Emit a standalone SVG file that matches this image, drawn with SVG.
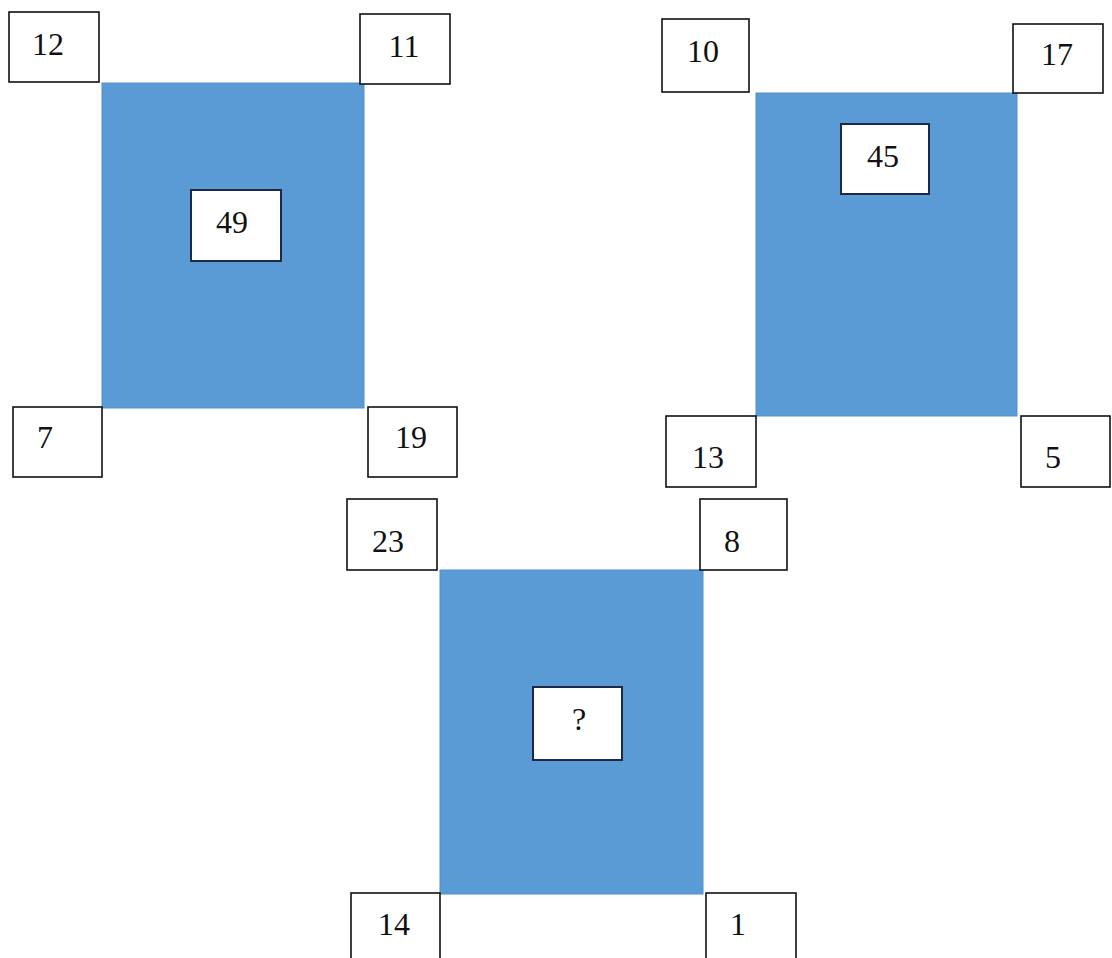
<svg xmlns="http://www.w3.org/2000/svg" width="1112" height="958" viewBox="0 0 1112 958">
<style>
.sq{fill:#5b9bd5;stroke:#5390cb;stroke-width:1}
.b{fill:#fff;stroke:#111;stroke-width:1.6}
.in{fill:#fff;stroke:#1c2a48;stroke-width:2}
text{font-family:"Liberation Serif","Times New Roman",serif;font-size:32px;fill:#111;text-anchor:middle}
</style>
<rect width="1112" height="958" fill="#fff"/>
<g id="group1">
<rect class="sq" x="102" y="83" width="262" height="325"/>
<g id="n12"><rect class="b" x="9" y="12" width="90" height="70"/><text x="48" y="55">12</text></g>
<g id="n11"><rect class="b" x="360" y="14" width="90" height="70"/><text x="404" y="57">11</text></g>
<g id="n7"><rect class="b" x="13" y="407" width="89" height="70"/><text x="45" y="448">7</text></g>
<g id="n19"><rect class="b" x="368" y="407" width="89" height="70"/><text x="411" y="448">19</text></g>
<g id="n49"><rect class="in" x="191" y="190" width="90" height="71"/><text x="232" y="233">49</text></g>
</g>
<g id="group2">
<rect class="sq" x="756" y="93" width="261" height="323"/>
<g id="n10"><rect class="b" x="662" y="19" width="87" height="73"/><text x="703" y="62">10</text></g>
<g id="n17"><rect class="b" x="1013" y="24" width="90" height="69"/><text x="1057" y="65">17</text></g>
<g id="n13"><rect class="b" x="666" y="416" width="90" height="71"/><text x="708" y="468">13</text></g>
<g id="n5"><rect class="b" x="1021" y="416" width="89" height="71"/><text x="1053" y="468">5</text></g>
<g id="n45"><rect class="in" x="841" y="124" width="88" height="70"/><text x="883" y="167">45</text></g>
</g>
<g id="group3">
<rect class="sq" x="440" y="570" width="263" height="324"/>
<g id="n23"><rect class="b" x="347" y="499" width="90" height="71"/><text x="388" y="552">23</text></g>
<g id="n8"><rect class="b" x="700" y="499" width="87" height="71"/><text x="732" y="552">8</text></g>
<g id="n14"><rect class="b" x="351" y="893" width="89" height="72"/><text x="394" y="935">14</text></g>
<g id="n1"><rect class="b" x="706" y="893" width="90" height="72"/><text x="738" y="935">1</text></g>
<g id="nq"><rect class="in" x="533" y="687" width="89" height="73"/><text x="579" y="730">?</text></g>
</g>
<g id="connectors"></g>
</svg>
